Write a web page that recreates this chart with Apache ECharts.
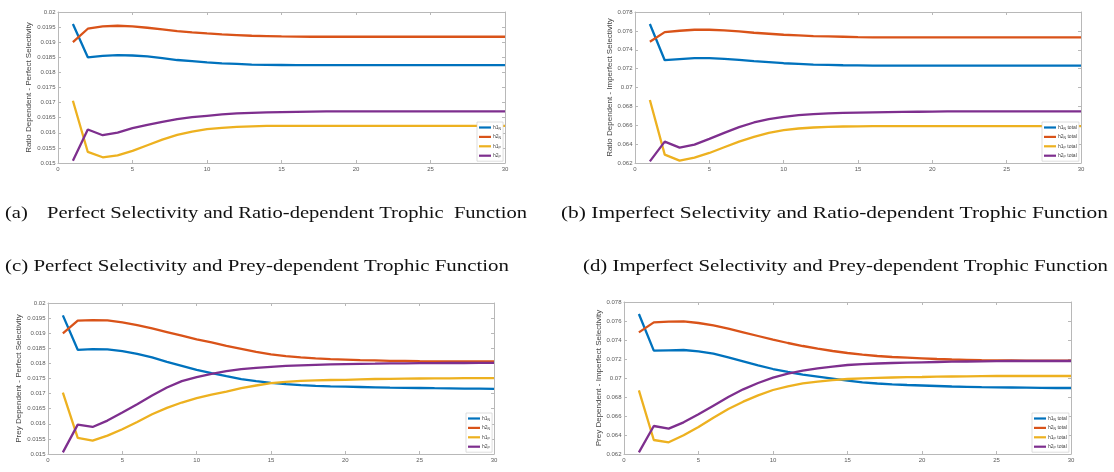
<!DOCTYPE html>
<html><head><meta charset="utf-8">
<script src="https://cdn.jsdelivr.net/npm/echarts@6/dist/echarts.min.js"></script>
<style>html,body{margin:0;padding:0;background:#fff}#c{width:1114px;height:472px}</style>
</head><body><div id="c"></div>
<script>
const steps = [1,2,3,4,5,6,7,8,9,10,11,12,13,14,15,16,17,18,19,20,21,22,23,24,25,26,27,28,29,30];
const xTicks = [0,5,10,15,20,25,30];

// (a) Ratio dependent - perfect selectivity
const A_h1N = [0.0196,0.0185,0.01855,0.01857,0.01856,0.01853,0.01847,0.01841,0.01837,0.01833,0.0183,0.01828,0.01826,0.01825,0.018245,0.01824,0.01824,0.01824,0.01824,0.01824,0.01824,0.01824,0.01824,0.01824,0.01824,0.01824,0.01824,0.01824,0.01824,0.01824];
const A_h2N = [0.019,0.019446,0.019523,0.019545,0.019523,0.019479,0.019424,0.019368,0.019324,0.01929,0.019257,0.019235,0.019213,0.019202,0.019191,0.019185,0.01918,0.01918,0.01918,0.01918,0.01918,0.01918,0.01918,0.01918,0.01918,0.01918,0.01918,0.01918,0.01918,0.01918];
const A_h1P = [0.017062,0.015366,0.015189,0.015255,0.0154,0.015588,0.015776,0.015931,0.016042,0.01612,0.016164,0.016198,0.016215,0.016226,0.016231,0.016231,0.016231,0.016231,0.016231,0.016231,0.016231,0.016231,0.016231,0.016231,0.016231,0.016231,0.016231,0.016231,0.016231,0.016231];
const A_h2P = [0.015078,0.016109,0.01592,0.016009,0.016153,0.016264,0.016364,0.016452,0.016519,0.016563,0.016608,0.016641,0.016663,0.016674,0.016685,0.016696,0.016702,0.016707,0.016707,0.016707,0.016707,0.016707,0.016707,0.016707,0.016707,0.016707,0.016707,0.016707,0.016707,0.016707];

// (b) Ratio dependent - imperfect selectivity
const B_h1N = [0.076723,0.072891,0.072998,0.073104,0.073104,0.073033,0.072927,0.072785,0.072678,0.072572,0.072501,0.07243,0.072395,0.072359,0.072341,0.072324,0.072324,0.072324,0.072324,0.072324,0.072324,0.072324,0.072324,0.072324,0.072324,0.072324,0.072324,0.072324,0.072324,0.072324];
const B_h2N = [0.074843,0.075871,0.076013,0.07612,0.07612,0.076049,0.075942,0.0758,0.075694,0.075588,0.075517,0.075446,0.07541,0.075375,0.075339,0.075321,0.075304,0.075304,0.075304,0.075304,0.075304,0.075304,0.075304,0.075304,0.075304,0.075304,0.075304,0.075304,0.075304,0.075304];
const B_h1P = [0.06867,0.062887,0.062248,0.062567,0.063064,0.063667,0.06427,0.064767,0.065193,0.065477,0.065654,0.06576,0.065831,0.065867,0.065885,0.065902,0.065902,0.065902,0.065902,0.065902,0.065902,0.065902,0.065902,0.065902,0.065902,0.065902,0.065902,0.065902,0.065902,0.065902];
const B_h2P = [0.062177,0.06427,0.063632,0.063951,0.064554,0.065193,0.065796,0.066293,0.066647,0.066896,0.067073,0.06718,0.06725,0.067303,0.067339,0.067374,0.067392,0.06741,0.067428,0.067445,0.067463,0.067463,0.067463,0.067463,0.067463,0.067463,0.067463,0.067463,0.067463,0.067463];

// (c) Prey dependent - perfect selectivity
const C_h1N = [0.019591,0.018451,0.018473,0.018462,0.018407,0.018319,0.018197,0.018053,0.01792,0.017788,0.017677,0.017577,0.017478,0.017412,0.017356,0.017312,0.017279,0.017257,0.01724,0.017229,0.017218,0.017207,0.017196,0.01719,0.017185,0.017179,0.017174,0.017168,0.017163,0.017157];
const C_h2N = [0.018993,0.019414,0.019436,0.019425,0.019358,0.01927,0.019159,0.019038,0.018916,0.018794,0.018695,0.018584,0.018485,0.018385,0.018296,0.018241,0.018197,0.018164,0.018142,0.018125,0.018108,0.018097,0.018086,0.018081,0.018075,0.01807,0.018064,0.018064,0.018064,0.018064];
const C_h1P = [0.017035,0.015531,0.015442,0.015608,0.015819,0.016062,0.016316,0.016527,0.016704,0.016847,0.016969,0.017069,0.017179,0.017268,0.017345,0.017389,0.017423,0.017439,0.01745,0.017456,0.017472,0.017483,0.017489,0.017494,0.0175,0.017505,0.017505,0.017511,0.017511,0.017511];
const C_h2P = [0.015055,0.015973,0.015896,0.016106,0.016372,0.016648,0.016936,0.017201,0.017412,0.017544,0.017655,0.017743,0.01781,0.017854,0.017887,0.017915,0.017937,0.017954,0.017965,0.017976,0.017987,0.017992,0.017998,0.018003,0.018009,0.018009,0.018014,0.018014,0.01802,0.01802];

// (d) Prey dependent - imperfect selectivity
const D_h1N = [0.076737,0.072877,0.072912,0.072947,0.072807,0.072561,0.072175,0.071754,0.071333,0.070947,0.070632,0.070351,0.07014,0.06993,0.069719,0.069544,0.069421,0.069333,0.069263,0.069211,0.069158,0.069105,0.06907,0.069035,0.069018,0.069,0.068982,0.068965,0.068947,0.068947];
const D_h2N = [0.074807,0.07586,0.07593,0.075965,0.075789,0.075544,0.075193,0.074807,0.074421,0.074035,0.073684,0.073368,0.073088,0.072842,0.072632,0.072456,0.072316,0.072211,0.07214,0.07207,0.072,0.071947,0.071912,0.071877,0.07186,0.071842,0.071825,0.071825,0.071825,0.071825];
const D_h1P = [0.068702,0.063474,0.063228,0.063965,0.064842,0.065825,0.066737,0.067509,0.068175,0.068737,0.069123,0.069439,0.069614,0.069772,0.069895,0.069965,0.070018,0.070053,0.070088,0.070105,0.07014,0.070158,0.070175,0.070193,0.07021,0.07021,0.07021,0.07021,0.07021,0.07021];
const D_h2P = [0.062175,0.064947,0.064667,0.065333,0.066175,0.067088,0.068,0.068807,0.069474,0.070035,0.070456,0.070772,0.071018,0.071193,0.071368,0.071456,0.071526,0.071579,0.071614,0.071649,0.071684,0.071719,0.071737,0.071754,0.071772,0.071789,0.071789,0.071789,0.071789,0.071789];

const seriesNamesPlain = ['h1N','h2N','h1P','h2P'];
const seriesNamesTotal = ['h1N total','h2N total','h1P total','h2P total'];
const yAxisTitles = ['Ratio Dependent - Perfect Selectivity','Ratio Dependent - Imperfect Selectivity','Prey Dependent - Perfect Selectivity','Prey Dependent - Imperfect Selectivity'];
const captions = [
  ['(a)','Perfect Selectivity and Ratio-dependent Trophic  Function'],
  ['(b) Imperfect Selectivity and Ratio-dependent Trophic Function'],
  ['(c) Perfect Selectivity and Prey-dependent Trophic Function'],
  ['(d) Imperfect Selectivity and Prey-dependent Trophic Function']
];
const yMinA = 0.015, yMaxA = 0.02, yStepA = 0.0005;
const yMinB = 0.062, yMaxB = 0.078, yStepB = 0.002;

const colors = ['#0072BD','#D95319','#EDB120','#7E2F8E'];
const panels = [
  {grid:{left:58,top:12,width:447,height:151}, ymin:yMinA,ymax:yMaxA,ystep:yStepA, data:[A_h1N,A_h2N,A_h1P,A_h2P], names:seriesNamesPlain, title:yAxisTitles[0], gap:20, legend:{left:477,top:122}},
  {grid:{left:635,top:12,width:446,height:151}, ymin:yMinB,ymax:yMaxB,ystep:yStepB, data:[B_h1N,B_h2N,B_h1P,B_h2P], names:seriesNamesTotal, title:yAxisTitles[1], gap:18, legend:{left:1042,top:122}},
  {grid:{left:48,top:303,width:446,height:151}, ymin:yMinA,ymax:yMaxA,ystep:yStepA, data:[C_h1N,C_h2N,C_h1P,C_h2P], names:seriesNamesPlain, title:yAxisTitles[2], gap:21, legend:{left:466,top:413}},
  {grid:{left:624,top:302,width:447,height:152}, ymin:yMinB,ymax:yMaxB,ystep:yStepB, data:[D_h1N,D_h2N,D_h1P,D_h2P], names:seriesNamesTotal, title:yAxisTitles[3], gap:17.5, legend:{left:1032,top:413}}
];

const axisCol = '#b8b8b8';
const labCol = '#5a5a5a';
const fmtNum = v => String(parseFloat(Number(v).toPrecision(6)));

const grid=[], xAxis=[], yAxis=[], series=[], legend=[];
panels.forEach((p,i)=>{
  grid.push(Object.assign({containLabel:false}, p.grid));
  const xBase = {type:'value', gridIndex:i, min:0, max:30, interval:5,
    axisLine:{show:true,onZero:false,lineStyle:{color:axisCol,width:1}},
    axisTick:{show:true,inside:true,length:3,lineStyle:{color:axisCol}},
    splitLine:{show:false}};
  xAxis.push(Object.assign({}, xBase, {position:'bottom',
    axisLabel:{show:true,fontSize:6,color:labCol,margin:3,fontFamily:'Liberation Sans',formatter:v=>String(v)}}));
  xAxis.push(Object.assign({}, xBase, {position:'top', axisLabel:{show:false}}));
  const yBase = {type:'value', gridIndex:i, min:p.ymin, max:p.ymax, interval:p.ystep,
    axisLine:{show:true,onZero:false,lineStyle:{color:axisCol,width:1}},
    axisTick:{show:true,inside:true,length:3,lineStyle:{color:axisCol}},
    splitLine:{show:false}};
  yAxis.push(Object.assign({}, yBase, {position:'left',
    name:p.title, nameLocation:'middle', nameGap:p.gap,
    nameTextStyle:{fontSize:8,color:'#444',fontFamily:'Liberation Sans'},
    axisLabel:{show:true,fontSize:6,color:labCol,margin:2.5,fontFamily:'Liberation Sans',formatter:fmtNum}}));
  yAxis.push(Object.assign({}, yBase, {position:'right', axisLabel:{show:false}}));
  p.data.forEach((arr,k)=>{
    series.push({type:'line', name:p.names[k], xAxisIndex:2*i, yAxisIndex:2*i,
      data: steps.map((s,j)=>[s,arr[j]]), showSymbol:false, symbol:'none',
      lineStyle:{color:colors[k],width:2.3}, itemStyle:{color:colors[k]}, animation:false, z:3});
  });
  legend.push({orient:'vertical', left:p.legend.left, top:p.legend.top, data:p.names,
    icon:'rect', itemWidth:12, itemHeight:2.2, itemGap:2.4, padding:[2,2,2,2],
    backgroundColor:'#fff', borderColor:'#c8c8c8', borderWidth:0.6, selectedMode:false,
    formatter: n => {
      const m = n.match(/^h(\d)([NP])( total)?$/);
      return '{m|h' + m[1] + '}{s|' + m[2] + '}' + (m[3] ? '{m| total}' : '');
    },
    textStyle:{fontSize:5,color:'#444',fontFamily:'Liberation Sans', padding:[0,0,0,-3],
      rich:{m:{fontSize:5,color:'#444',lineHeight:6,fontFamily:'Liberation Sans'},
            s:{fontSize:3.5,color:'#444',lineHeight:6,padding:[3,0,0,0],fontFamily:'Liberation Sans'}}}
  });
});

// Caption layout (text kept as text)
const capFont = 17, capFam = '"Liberation Serif"';
const mctx = document.createElement('canvas').getContext('2d');
mctx.font = capFont + 'px ' + capFam;
const capSpec = [
  {text:captions[0][0], x:5, y:214, w:null},
  {text:captions[0][1], x:47, y:214, w:480},
  {text:captions[1][0], x:561, y:214, w:547},
  {text:captions[2][0], x:5, y:267, w:504},
  {text:captions[3][0], x:583, y:267, w:525}
];
let scaleRef = 1;
const graphic = capSpec.map((c,idx)=>{
  const mw = mctx.measureText(c.text).width;
  let sx = c.w ? c.w / mw : null;
  if (idx===1) scaleRef = sx;
  return {type:'text', x:c.x, y:c.y, scaleX: sx || 1, style:{text:c.text, fontSize:capFont, fontFamily:capFam, fill:'#111', verticalAlign:'middle', align:'left'}};
});
graphic[0].scaleX = scaleRef;

const chart = echarts.init(document.getElementById('c'), null, {renderer:'canvas'});
chart.setOption({animation:false, backgroundColor:'#fff', grid, xAxis, yAxis, series, legend, graphic});
</script>
</body></html>
